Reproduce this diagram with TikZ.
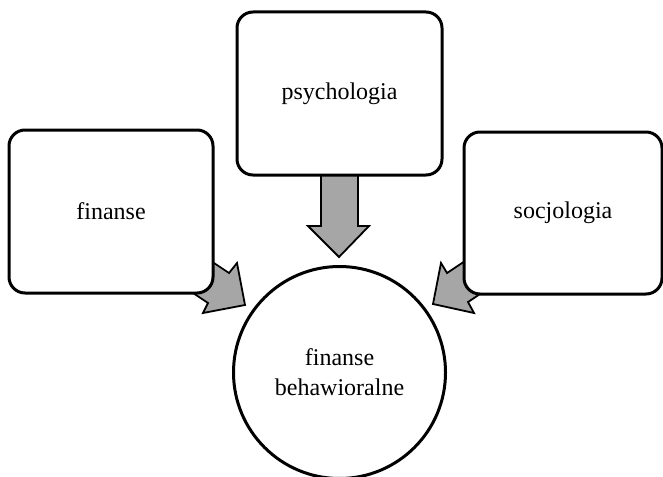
\documentclass[tikz,border=0pt]{standalone}
\usepackage{fontspec}
\setmainfont{Liberation Serif}
\begin{document}
\begin{tikzpicture}[x=1pt,y=-1pt,
  field/.style={draw=black, line width=3pt, rounded corners=16pt, fill=white,
    font=\fontsize{24}{30}\selectfont, inner sep=0pt},
  hub/.style={draw=black, line width=3pt, circle, fill=white, minimum size=212pt,
    inner sep=0pt, align=center, font=\fontsize{24}{30}\selectfont},
  blockarrow/.style={draw=black, line width=1.8pt, fill=black!35, line join=miter}]
\useasboundingbox (0,0) rectangle (663,476);

% block arrows (drawn first, their tails hide under the boxes)
\draw[blockarrow] (196,251) -- (229,273) -- (237,263) -- (245,305) -- (203,313) -- (208,303) -- (175,281) -- cycle;
\draw[blockarrow] (321,160) -- (358,160) -- (358,226) -- (369,226) -- (339,257) -- (308,226) -- (321,226) -- cycle;
\draw[blockarrow] (480,251) -- (447,273) -- (441,263) -- (433,304) -- (474,313) -- (468,302) -- (501,280) -- cycle;

% source fields
\node[field, minimum width=204pt, minimum height=163pt] (fin) at (111,211.5) {finanse};
\node[field, minimum width=205pt, minimum height=163pt] (psy) at (339.5,93.5) {psychologia};
\node[field, minimum width=198pt, minimum height=162pt] (soc) at (563,213) {socjologia};

% resulting discipline
\node[hub] (beh) at (339.5,372.5) {finanse\\behawioralne};
\end{tikzpicture}
\end{document}
